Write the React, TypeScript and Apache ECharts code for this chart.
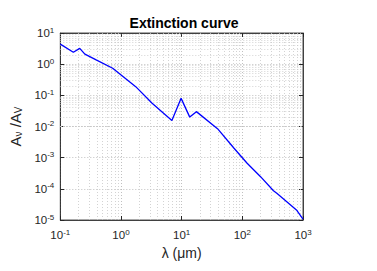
import React, { useEffect, useRef } from "react";
import * as echarts from "echarts";

const wavelength = [0.1, 0.164, 0.209, 0.254, 0.39, 0.73, 1.75, 3.26, 6.9, 9.8, 13.6, 17.5, 39, 73, 120, 198, 326, 370, 780, 1000];
const extinction = [4.4, 2.4, 3.2, 2.1, 1.37, 0.74, 0.19, 0.056, 0.0155, 0.08, 0.02, 0.03, 0.0085, 0.002, 0.00066, 0.00025, 0.000087, 0.000072, 0.000021, 0.0000107];
const xMinor = [0.2, 0.3, 0.4, 0.5, 0.6, 0.7, 0.8, 0.9, 2, 3, 4, 5, 6, 7, 8, 9, 20, 30, 40, 50, 60, 70, 80, 90, 200, 300, 400, 500, 600, 700, 800, 900];
const yMinor: number[] = [];
[1e-5, 1e-4, 1e-3, 1e-2, 1e-1, 1].forEach((d) => {
  for (let k = 2; k <= 9; k++) yMinor.push(+(d * k).toPrecision(3));
});

const FONT = "Liberation Sans, Arial, Helvetica, sans-serif";

const richTick = {
  b: { fontSize: 11.5, color: "#262626", fontFamily: FONT },
  s: { fontSize: 8, color: "#262626", fontFamily: FONT, verticalAlign: "top", padding: [0, 0, 6, 0] },
};
const fmt = (v: number) => `{b|10}{s|${Math.round(Math.log10(v))}}`;

export default function App() {
  const ref = useRef<HTMLDivElement>(null);
  useEffect(() => {
    const chart = echarts.init(ref.current!, null, { renderer: "svg" });
    const minorLine = { color: "#c8c8c8", type: [1, 2], width: 0.8 };
    chart.setOption({
      animation: false,
      title: {
        text: "Extinction curve",
        left: 179,
        textAlign: "center",
        top: 11,
        textStyle: { fontSize: 14, fontWeight: "bold", color: "#000", fontFamily: FONT },
      },
      grid: { left: 57, right: 74, top: 33, bottom: 51, show: true, borderColor: "#262626", borderWidth: 0.8, backgroundColor: "#fff" },
      xAxis: [
        {
          type: "log", logBase: 10, min: 0.1, max: 1000,
          name: "λ (μm)", nameLocation: "middle", nameGap: 26,
          nameTextStyle: { fontSize: 14, color: "#262626", fontFamily: FONT },
          axisLine: { lineStyle: { color: "#262626", width: 0.8 } },
          axisTick: { inside: true, length: 4, lineStyle: { color: "#262626" } },
          axisLabel: { formatter: fmt, rich: richTick, margin: 8 },
          splitLine: { show: true, lineStyle: { color: "#b0b0b0", type: [1, 2], width: 0.8 } },
        },
        {
          type: "log", logBase: 10, min: 0.1, max: 1000, position: "top",
          axisLine: { lineStyle: { color: "#262626", width: 0.8 } },
          axisTick: { inside: true, length: 4, lineStyle: { color: "#262626" } },
          axisLabel: { show: false }, splitLine: { show: false },
        },
      ],
      yAxis: [
        {
          type: "log", logBase: 10, min: 1e-5, max: 10,
          name: "{a|A}{sub|ν}{a| /A}{sub|V}", nameLocation: "middle", nameGap: 35,
          nameTextStyle: {
            fontFamily: FONT, color: "#262626",
            rich: {
              a: { fontSize: 15, fontFamily: FONT, color: "#262626" },
              sub: { fontSize: 10, fontFamily: FONT, color: "#262626", verticalAlign: "bottom", padding: [6, 0, 0, 0] },
            },
          },
          axisLine: { lineStyle: { color: "#262626", width: 0.8 } },
          axisTick: { inside: true, length: 4, lineStyle: { color: "#262626" } },
          axisLabel: { formatter: fmt, rich: richTick, margin: 6 },
          splitLine: { show: true, lineStyle: { color: "#b0b0b0", type: [1, 2], width: 0.8 } },
        },
        {
          type: "log", logBase: 10, min: 1e-5, max: 10, position: "right",
          axisLine: { lineStyle: { color: "#262626", width: 0.8 } },
          axisTick: { inside: true, length: 4, lineStyle: { color: "#262626" } },
          axisLabel: { show: false }, splitLine: { show: false },
        },
      ],
      series: [
        {
          type: "line",
          data: [],
          markLine: {
            silent: true, symbol: "none", label: { show: false },
            lineStyle: minorLine,
            data: [
              ...xMinor.map((v) => ({ xAxis: v })),
              ...yMinor.map((v) => ({ yAxis: v })),
            ],
          },
        },
        {
          type: "line",
          data: wavelength.map((x, i) => [x, extinction[i]]),
          showSymbol: false,
          lineStyle: { color: "#0000ff", width: 1.3 },
          z: 5,
        },
      ],
    });
    return () => chart.dispose();
  }, []);
  return <div ref={ref} style={{ width: 377, height: 271, position: "absolute", left: 0, top: 0 }} />;
}
